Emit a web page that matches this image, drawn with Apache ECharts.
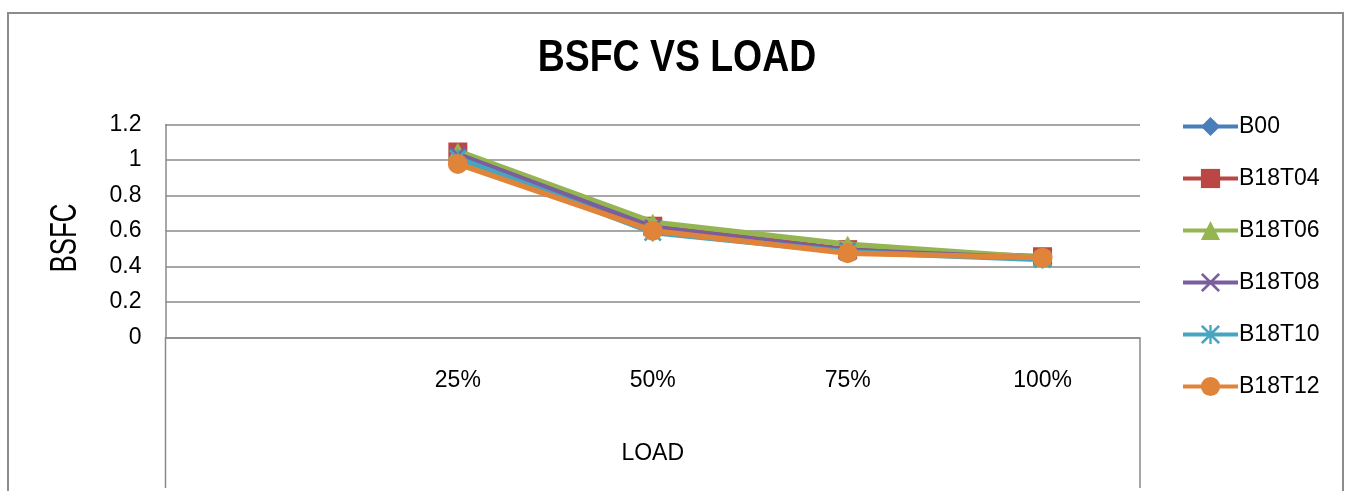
<!DOCTYPE html>
<html>
<head>
<meta charset="utf-8">
<script src="https://cdn.jsdelivr.net/npm/echarts@6/dist/echarts.min.js"></script>
<style>
html,body{margin:0;padding:0;background:#fff;}
#chart{width:1350px;height:491px;}
</style>
</head>
<body>
<div id="chart"></div>
<script>
// ---- data ----
const categories = ['', '25%', '50%', '75%', '100%'];
const seriesNames = ['B00', 'B18T04', 'B18T06', 'B18T08', 'B18T10', 'B18T12'];
const B00    = [null, 1.02, 0.61, 0.49, 0.445];
const B18T04 = [null, 1.045, 0.627, 0.495, 0.455];
const B18T06 = [null, 1.05, 0.65, 0.525, 0.45];
const B18T08 = [null, 1.03, 0.62, 0.49, 0.445];
const B18T10 = [null, 1.01, 0.592, 0.482, 0.44];
const B18T12 = [null, 0.978, 0.602, 0.475, 0.45];
const yTicks = [0, 0.2, 0.4, 0.6, 0.8, 1, 1.2];
const titleText = 'BSFC VS LOAD';
const yTitle = 'BSFC';
const xTitle = 'LOAD';

// ---- styles ----
const FONT = '"Liberation Sans", Arial, sans-serif';
const colors = ['#4A7EBB', '#BA4743', '#94B552', '#7A5E9E', '#46A6C2', '#E0843A'];
const xPath = 'path://M1,0L5,4L9,0L10,1L6,5L10,9L9,10L5,6L1,10L0,9L4,5L0,1Z';
const starPath = 'path://M1,0L5,4L9,0L10,1L6,5L10,9L9,10L5,6L1,10L0,9L4,5L0,1Z M4.4,0L5.6,0L5.6,10L4.4,10Z';
const symbols = ['diamond', 'rect', 'triangle', xPath, starPath, 'circle'];
const symbolSizes = [[16, 20], 19, [20, 17], 17, 18, 20];
const allData = [B00, B18T04, B18T06, B18T08, B18T10, B18T12];

const chart = echarts.init(document.getElementById('chart'));
const gridColor = '#8a8a8a';

const option = {
  animation: false,
  backgroundColor: '#fff',
  legend: {
    orient: 'vertical',
    left: 1181,
    top: 115,
    padding: 0,
    itemWidth: 55,
    itemHeight: 24,
    itemGap: 29,
    data: seriesNames,
    lineStyle: { width: 4 },
    textStyle: { fontFamily: FONT, fontSize: 23, color: '#000', padding: [0, 0, 0, -4] }
  },
  grid: { left: 165.5, right: 210, top: 124.5, bottom: 153.5, containLabel: false },
  xAxis: {
    type: 'category',
    data: categories,
    boundaryGap: true,
    axisLine: { lineStyle: { color: gridColor, width: 1.5 } },
    axisTick: { show: false },
    axisLabel: { fontFamily: FONT, fontSize: 23, color: '#000', margin: 32 },
    name: xTitle,
    nameLocation: 'middle',
    nameGap: 105,
    nameTextStyle: { fontFamily: FONT, fontSize: 23, color: '#000' }
  },
  yAxis: {
    type: 'value',
    min: yTicks[0],
    max: yTicks[yTicks.length - 1],
    interval: 0.2,
    axisLine: { show: true, lineStyle: { color: gridColor, width: 1.5 } },
    axisTick: { show: false },
    splitLine: { lineStyle: { color: gridColor, width: 1.5 } },
    axisLabel: {
      fontFamily: FONT, fontSize: 23, color: '#000', margin: 24,
      formatter: function (v) { return String(Math.round(v * 10) / 10); }
    }
  },
  series: seriesNames.map(function (name, i) {
    return {
      name: name,
      type: 'line',
      data: allData[i],
      symbol: symbols[i],
      symbolSize: symbolSizes[i],
      showSymbol: true,
      connectNulls: false,
      lineStyle: { color: colors[i], width: 5.5 },
      itemStyle: { color: colors[i], opacity: 1 },
      z: 2 + i
    };
  })
};
chart.setOption(option);

// decorative frame lines and condensed title texts
const rect = chart.getModel().getComponent('grid', 0).coordinateSystem.getRect();
chart.setOption({
  graphic: [
    { type: 'rect', shape: { x: 8, y: 13, width: 1335, height: 520 },
      style: { fill: 'none', stroke: '#8c8c8c', lineWidth: 2 }, silent: true, z: 0 },
    { type: 'line', shape: { x1: rect.x, y1: rect.y + rect.height, x2: rect.x, y2: 488 },
      style: { stroke: gridColor, lineWidth: 1.5 }, silent: true },
    { type: 'line', shape: { x1: rect.x + rect.width, y1: rect.y + rect.height, x2: rect.x + rect.width, y2: 488 },
      style: { stroke: gridColor, lineWidth: 1.5 }, silent: true },
    { type: 'text', x: 677, y: 59, scaleX: 0.85, silent: true,
      style: { text: titleText, font: 'bold 44px ' + FONT, fill: '#000', align: 'center', verticalAlign: 'middle' } },
    { type: 'text', x: 66, y: 238, rotation: Math.PI / 2, scaleX: 0.72, silent: true,
      style: { text: yTitle, font: '36px ' + FONT, fill: '#000', align: 'center', verticalAlign: 'middle' } }
  ]
});
</script>
</body>
</html>
